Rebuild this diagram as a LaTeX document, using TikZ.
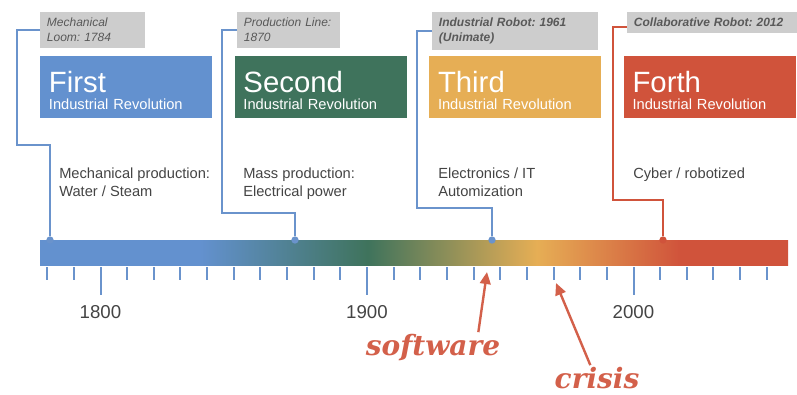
\documentclass[tikz,border=0pt]{standalone}
\usepackage{fontspec}
\setmainfont{Liberation Sans}
\newfontfamily\handfont{DejaVu Serif}
\usetikzlibrary{positioning,arrows.meta}
\frenchspacing

\definecolor{firstblue}{HTML}{6391CF}
\definecolor{secondgreen}{HTML}{3F735C}
\definecolor{thirdgold}{HTML}{E6AE55}
\definecolor{forthred}{HTML}{D0533B}
\definecolor{notegray}{HTML}{CDCDCD}
\definecolor{linkblue}{HTML}{6A93CC}
\definecolor{textgray}{HTML}{444444}
\definecolor{crisisred}{HTML}{D3604A}

\pgfdeclarehorizontalshading{timeline}{100bp}{color(0bp)=(firstblue); color(35.7bp)=(firstblue);
  color(46.9bp)=(secondgreen); color(58.2bp)=(thirdgold); color(67.8bp)=(forthred); color(100bp)=(forthred)}

\newcommand{\bigname}[1]{{\fontsize{22}{24}\selectfont\rule{0pt}{21pt}#1}}
\newcommand{\subname}[1]{{\fontsize{11}{13}\selectfont #1}}

\begin{document}
\begin{tikzpicture}[x=0.75pt, y=-0.75pt,
    revbox/.style={rectangle, anchor=north west, align=left, text=white, text width=116pt,
                   minimum height=46.5pt, inner xsep=6.5pt, inner ysep=6pt, font=\fontsize{11}{13}\selectfont},
    notebox/.style={rectangle, fill=notegray, anchor=north west, align=left, text=black!65,
                    font=\fontsize{9}{11}\selectfont\itshape, inner xsep=5pt, inner ysep=4.5pt},
    desc/.style={anchor=north west, align=left, text=textgray, font=\fontsize{11}{13}\selectfont, inner sep=0pt},
    yearlabel/.style={text=textgray, font=\fontsize{14}{14}\selectfont},
    dot/.style={circle, inner sep=0pt, minimum size=5.5pt},
    link/.style={line width=1.5pt, draw=linkblue},
    tick/.style={line width=1.5pt, draw=linkblue},
    cue/.style={draw=crisisred, line width=1.8pt, -{Triangle[length=9pt, width=8pt]}},
    crisistext/.style={text=crisisred, inner sep=1pt, font=\handfont\bfseries\itshape\fontsize{21}{21}\selectfont},
    node distance=16.5pt]
\useasboundingbox (0,0) rectangle (797,394);

% the four revolutions
\node[revbox, fill=firstblue] (b1) at (40,56) {\bigname{First}\\\subname{Industrial Revolution}};
\node[revbox, fill=secondgreen] (b2) [right=of b1] {\bigname{Second}\\\subname{Industrial Revolution}};
\node[revbox, fill=thirdgold] (b3) [right=of b2] {\bigname{Third}\\\subname{Industrial Revolution}};
\node[revbox, fill=forthred] (b4) [right=of b3] {\bigname{Forth}\\\subname{Industrial Revolution}};

% inventions
\node[notebox, text width=68.75pt] (g1) at (40,12) {Mechanical\\Loom: 1784};
\node[notebox, text width=67pt] (g2) at (237,12) {Production Line:\\1870};
\node[notebox, text width=114.5pt, font=\fontsize{9}{11}\selectfont\bfseries\itshape] (g3) at (432,12) {Industrial Robot: 1961\\(Unimate)};
\node[notebox, text width=117.5pt, font=\fontsize{9}{11}\selectfont\bfseries\itshape] (g4) at (627,12) {Collaborative Robot: 2012};

% descriptions
\node[desc] (d1) at (59,168) {Mechanical production:\\Water / Steam};
\node[desc] (d2) at (243,168) {Mass production:\\Electrical power};
\node[desc] (d3) at (438,168) {Electronics / IT\\Automization};
\node[desc] (d4) at (633,168) {Cyber / robotized};

% timeline
\shade[shading=timeline] (40,240) rectangle (788,265);
\foreach \yr in {1780,1790,...,2050} {
    \pgfmathsetmacro\tx{367+(\yr-1900)*2.665}
    \draw[tick] (\tx,267) -- (\tx,280);
}
\foreach \yr in {1800,1900,2000} {
    \pgfmathsetmacro\tx{367+(\yr-1900)*2.665}
    \draw[tick] (\tx,267) -- (\tx,295);
    \node[yearlabel] (y\yr) at (\tx,312) {\yr};
}

\node[dot, fill=linkblue] (p1) at (50,240) {};
\node[dot, fill=linkblue] (p2) at (295,240) {};
\node[dot, fill=linkblue] (p3) at (492,240) {};
\node[dot, fill=forthred] (p4) at (663,240) {};

\draw[link] (g1.west) -| (17,145) -| (p1);
\draw[link] (g2.west) -| (222,213) -| (p2);
\draw[link] (g3.west) -| (417,208) -| (p3);
\draw[link, draw=forthred] ([yshift=-3pt]g4.west) -| (613,200) -| (p4);

% software crisis
\node[crisistext, anchor=base] (sw) at (433,355) {software};
\node[crisistext, anchor=base] (cr) at (597,388) {crisis};
\coordinate (swtip) at (487,272);
\coordinate (crtip) at (556,283);
\draw[cue] ([xshift=34pt]sw.north) -- (swtip);
\draw[cue] ([xshift=-5pt]cr.north) -- (crtip);
\end{tikzpicture}
\end{document}
